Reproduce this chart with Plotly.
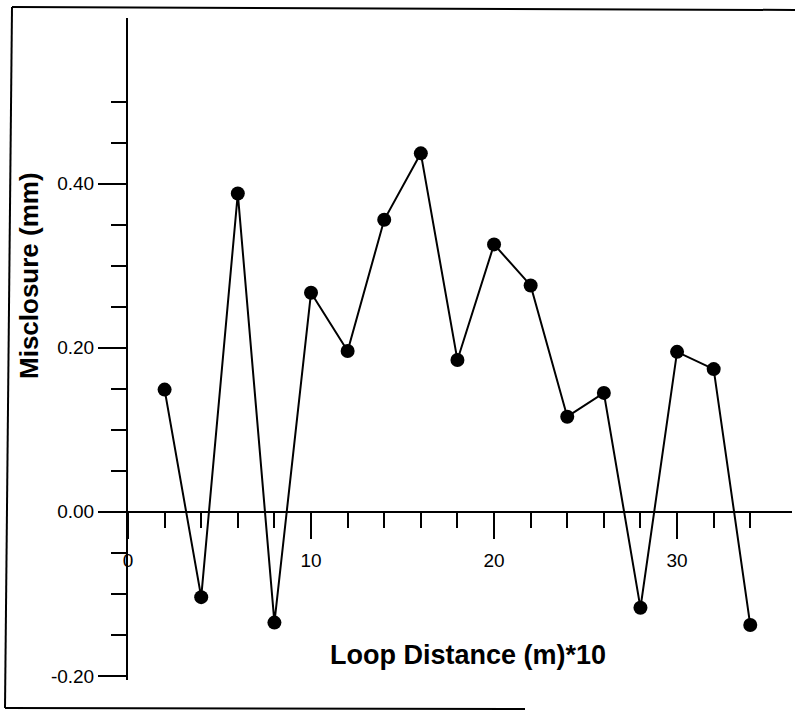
import plotly.graph_objects as go

loop_distance = [2, 4, 6, 8, 10, 12, 14, 16, 18, 20, 22, 24, 26, 28, 30, 32, 34]
misclosure = [0.149, -0.104, 0.388, -0.135, 0.267, 0.196, 0.356, 0.437, 0.185,
              0.326, 0.276, 0.116, 0.145, -0.117, 0.195, 0.174, -0.138]

y_major = [-0.2, 0.0, 0.2, 0.4]
y_major_text = ["-0.20", "0.00", "0.20", "0.40"]
y_minor = [-0.15, -0.1, -0.05, 0.05, 0.1, 0.15, 0.25, 0.3, 0.35, 0.45, 0.5]
x_major = [0, 10, 20, 30]
x_minor = [2, 4, 6, 8, 12, 14, 16, 18, 22, 24, 26, 28, 32, 34]

FONT = "Liberation Sans, Arial, sans-serif"

W, H = 795, 711
ML, MR, MT, MB = 128, 3, 18, 31
PW, PH = W - ML - MR, H - MT - MB

def px(x):
    return (x - ML) / PW

def py(y):
    return (H - MB - y) / PH

y_range = [-0.205, 0.602]
x_range = [0, 36.28]

fig = go.Figure()
fig.add_trace(go.Scatter(
    x=loop_distance, y=misclosure, mode="lines+markers",
    line=dict(color="black", width=2),
    marker=dict(color="black", size=14),
    showlegend=False, hoverinfo="skip"))

fig.update_layout(
    width=W, height=H,
    margin=dict(l=ML, r=MR, t=MT, b=MB, autoexpand=False),
    paper_bgcolor="white", plot_bgcolor="white",
    font=dict(family=FONT, color="black"),
    xaxis=dict(
        range=x_range, anchor="free", position=(0 - y_range[0]) / (y_range[1] - y_range[0]),
        showgrid=False, zeroline=False, showline=True, linecolor="black", linewidth=2,
        tickmode="array", tickvals=x_major, ticktext=[str(v) for v in x_major],
        ticks="outside", ticklen=26, tickwidth=2, tickcolor="black",
        tickfont=dict(size=19, family=FONT, color="black"), ticklabelstandoff=5,
        minor=dict(tickmode="array", tickvals=x_minor, ticks="outside", ticklen=15,
                   tickwidth=2, tickcolor="black", showgrid=False),
    ),
    yaxis=dict(
        range=y_range, showgrid=False, zeroline=False, showline=True,
        linecolor="black", linewidth=2,
        tickmode="array", tickvals=y_major, ticktext=y_major_text,
        ticks="outside", ticklen=28, tickwidth=2, tickcolor="black",
        tickfont=dict(size=19, family=FONT, color="black"),
        minor=dict(tickmode="array", tickvals=y_minor, ticks="outside", ticklen=15,
                   tickwidth=2, tickcolor="black", showgrid=False),
    ),
)

fig.add_annotation(text="<b>Misclosure (mm)</b>", xref="paper", yref="paper",
                   x=px(29), y=py(276), textangle=-90, showarrow=False,
                   font=dict(size=26, family=FONT, color="black"),
                   xanchor="center", yanchor="middle")
fig.add_annotation(text="<b>Loop Distance (m)*10</b>", xref="paper", yref="paper",
                   x=px(468), y=py(655), showarrow=False,
                   font=dict(size=27, family=FONT, color="black"),
                   xanchor="center", yanchor="middle")

frame = dict(type="line", xref="paper", yref="paper", line=dict(color="black", width=2))
fig.add_shape(**frame, x0=px(12), y0=py(7), x1=px(5), y1=py(708))
fig.add_shape(**frame, x0=px(12), y0=py(7), x1=px(795), y1=py(10))
fig.add_shape(**frame, x0=px(5), y0=py(708), x1=px(525), y1=py(709))

fig.write_html("out.html", config={"displayModeBar": False},
               post_script="document.body.style.margin='0';")
